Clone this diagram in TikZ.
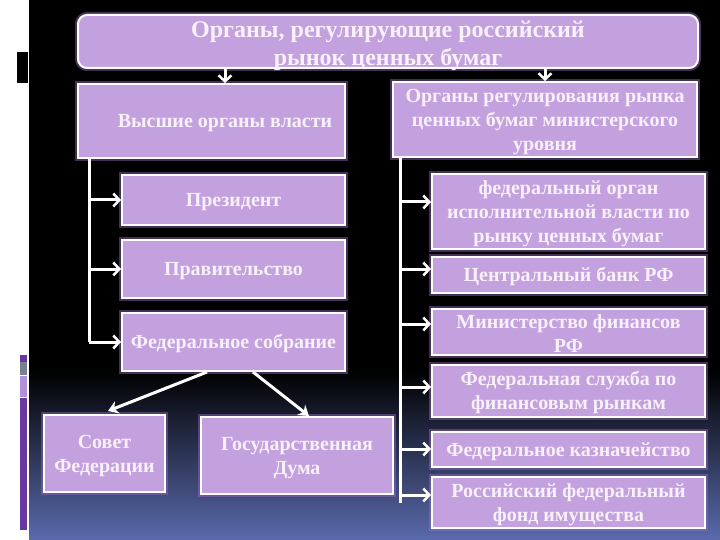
\documentclass[tikz,border=0pt]{standalone}
\usepackage{fontspec}
\setmainfont{Liberation Serif}
\usetikzlibrary{arrows.meta}
\definecolor{boxfill}{RGB}{195,160,222}
\definecolor{txt}{RGB}{248,240,250}
\definecolor{glow}{RGB}{150,110,190}
\definecolor{bgblue}{RGB}{90,106,172}
\definecolor{decdark}{RGB}{105,55,160}
\definecolor{decgray}{RGB}{120,128,145}
\definecolor{declight}{RGB}{176,144,216}
\newcommand\tstr{\rule{0pt}{18pt}}
\newcommand\bstr{\rule[-2pt]{0pt}{2pt}}
\begin{document}
\begin{tikzpicture}[x=1pt,y=-1pt,
  box/.style={draw=white, line width=2pt, fill=boxfill, text=txt,
    font=\bfseries\fontsize{20}{24}\selectfont, align=center, inner sep=0pt,
    preaction={draw=glow, line width=6pt, opacity=0.45}},
  conn/.style={draw=white, line width=3pt},
  arr/.style={conn, -{Straight Barb[length=6pt,width=13pt,line width=2.5pt]}},
  darr/.style={conn, -{Stealth[length=10pt,width=13pt]}}]
\useasboundingbox (0,0) rectangle (720,540);
% background
\fill[white] (0,0) rectangle (720,540);
\fill[black] (29,0) rectangle (720,540);
\shade[top color=black, bottom color=bgblue] (29,370) rectangle (720,540);
% left decorations
\fill[black] (17,52) rectangle (28,83);
\fill[decdark] (20,355) rectangle (27,362);
\fill[decgray] (20,362) rectangle (27,375);
\fill[declight] (20,376) rectangle (27,397);
\fill[decdark] (20,398) rectangle (27,530);
% nodes
\node[box, rounded corners=9pt, minimum width=620pt, minimum height=53pt] (title) at (388,41.5) {};
\node[text=txt, font=\bfseries\fontsize{24}{28}\selectfont, align=center, inner sep=0pt] (titletext) at (388,46)
  {Органы, регулирующие российский\\рынок ценных бумаг};
\node[box, minimum width=267pt, minimum height=74pt] (high) at (211.5,121) {\tstr\hspace*{27pt}Высшие органы власти\bstr};
\node[box, minimum width=304pt, minimum height=75pt] (minreg) at (545,119.5)
  {\tstr Органы регулирования рынка\\ценных бумаг министерского\\уровня\bstr};
\node[box, minimum width=223pt, minimum height=50pt] (pres) at (233.5,200) {\tstr Президент\bstr};
\node[box, minimum width=223pt, minimum height=58pt] (gov) at (233.5,269) {\tstr Правительство\bstr};
\node[box, minimum width=223pt, minimum height=58pt] (fed) at (233.5,342) {\tstr Федеральное собрание\bstr};
\node[box, minimum width=121pt, minimum height=77pt] (sovet) at (104.5,453.5) {\tstr Совет\\Федерации\bstr};
\node[box, minimum width=192pt, minimum height=77pt] (duma) at (297,455.5) {\tstr Государственная\\Дума\bstr};
\node[box, minimum width=273pt, minimum height=75pt] (r1) at (568.5,211.5)
  {\tstr федеральный орган\\исполнительной власти по\\рынку ценных бумаг\bstr};
\node[box, minimum width=273pt, minimum height=36pt] (r2) at (568.5,275) {\tstr Центральный банк РФ\bstr};
\node[box, minimum width=273pt, minimum height=46pt] (r3) at (568.5,332) {\tstr Министерство финансов\\РФ\bstr};
\node[box, minimum width=273pt, minimum height=52pt] (r4) at (568.5,391) {\tstr Федеральная служба по\\финансовым рынкам\bstr};
\node[box, minimum width=273pt, minimum height=35pt] (r5) at (568.5,449.5) {\tstr Федеральное казначейство\bstr};
\node[box, minimum width=273pt, minimum height=51pt] (r6) at (568.5,502.5) {\tstr Российский федеральный\\фонд имущества\bstr};
% connectors
\coordinate (a1) at (225,0);
\coordinate (a2) at (545,0);
\draw[arr] (title.south -| a1) -- (high.north -| a1);
\draw[arr] (title.south -| a2) -- (minreg.north -| a2);
\coordinate (lt) at (89,0);
\coordinate (rt) at (400,0);
\draw[conn] (high.south -| lt) -- (fed.west -| lt);
\draw[arr] (pres.west -| lt) -- (pres.west);
\draw[arr] (gov.west -| lt) -- (gov.west);
\draw[arr] (fed.west -| lt) -- (fed.west);
\draw[conn] (minreg.south -| rt) -- (r6.west -| rt);
\foreach \n/\yy in {r1/202,r2/269,r3/324,r4/387,r5/449,r6/495}{
  \coordinate (t\n) at (400,\yy);
  \draw[arr] (t\n) -- (t\n -| \n.west);
}
\coordinate (f1) at (207,0);
\coordinate (f2) at (253,0);
\coordinate (s1) at (108,411);
\coordinate (d1) at (309,416);
\draw[darr] (fed.south -| f1) -- (s1);
\draw[darr] (fed.south -| f2) -- (d1);
\end{tikzpicture}
\end{document}
